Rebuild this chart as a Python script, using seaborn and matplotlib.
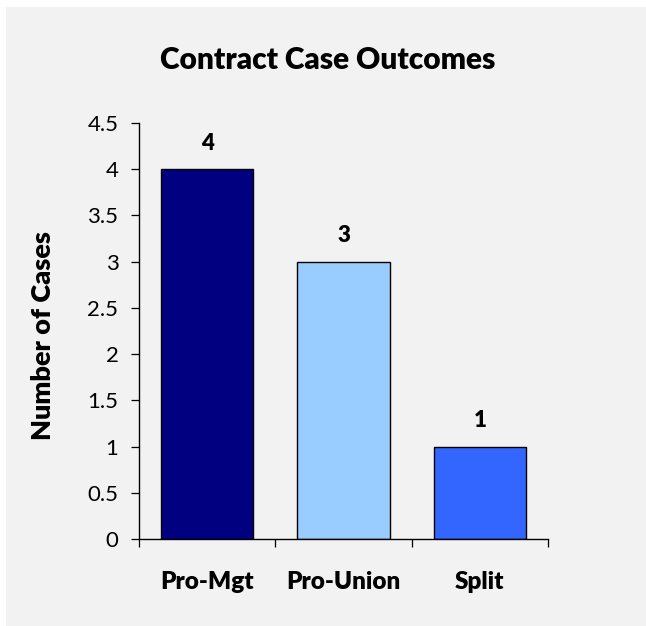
import matplotlib
matplotlib.use("Agg")
import matplotlib.pyplot as plt
import seaborn as sns
import pandas as pd
from matplotlib.patches import Rectangle

categories = ["Pro-Mgt", "Pro-Union", "Split"]
cases = [4, 3, 1]
colors = ["#000080", "#99CCFF", "#3366FF"]
yticks = [0, 0.5, 1, 1.5, 2, 2.5, 3, 3.5, 4, 4.5]
title = "Contract Case Outcomes"
ylabel = "Number of Cases"

sns.set_style("ticks")
plt.rcParams["font.family"] = ["Lato", "DejaVu Sans"]
plt.rcParams["text.color"] = "black"
plt.rcParams["xtick.color"] = "black"
plt.rcParams["ytick.color"] = "black"
plt.rcParams["axes.labelcolor"] = "black"

W, H = 646, 626
fig = plt.figure(figsize=(W / 100, H / 100), dpi=100)
fig.patch.set_facecolor("white")
fig.patches.append(Rectangle((6 / W, 0), 640 / W, 619 / H, transform=fig.transFigure,
                             facecolor="#F2F2F2", edgecolor="none", zorder=-10))

ax = fig.add_axes([139 / W, 87 / H, 409 / W, 416 / H])
ax.set_facecolor("none")

df = pd.DataFrame({"cat": categories, "n": cases})
sns.barplot(data=df, x="cat", y="n", hue="cat", palette=colors, legend=False,
            saturation=1, width=0.675, edgecolor="black", linewidth=1.0, ax=ax)

ax.set_ylim(0, 4.5)
ax.set_xlim(-0.5, 2.5)
ax.set_yticks(yticks)
ax.set_yticklabels([f"{v:g}" for v in yticks], fontsize=16, color="black")
ax.set_xticks(range(len(categories)))
ax.set_xticklabels(categories, fontsize=17.5, fontweight="heavy", color="black")
ax.set_xticks([-0.5, 0.5, 1.5, 2.5], minor=True)
ax.tick_params(axis="x", which="major", length=0, pad=23)
ax.tick_params(axis="x", which="minor", length=5.8, width=0.9, direction="out", color="black")
ax.tick_params(axis="y", which="major", length=5.8, width=0.9, direction="out", color="black", pad=9)
ax.set_xlabel("")
ax.set_ylabel("")
for s in ["top", "right"]:
    ax.spines[s].set_visible(False)
for s in ["left", "bottom"]:
    ax.spines[s].set_linewidth(1.0)
    ax.spines[s].set_color("black")

for c in ax.containers:
    ax.bar_label(c, labels=[f"{v:g}" for v in c.datavalues], padding=11,
                 fontsize=16, fontweight="heavy", color="black")

fig.text(328 / W, 1 - 69 / H, title, ha="center", va="baseline",
         fontsize=21.5, fontweight="heavy", color="black")
fig.text(43 / W, 1 - 336 / H, ylabel, ha="center", va="center", rotation=90,
         fontsize=19.5, fontweight="heavy", color="black")

fig.savefig("out.png", dpi=100)
